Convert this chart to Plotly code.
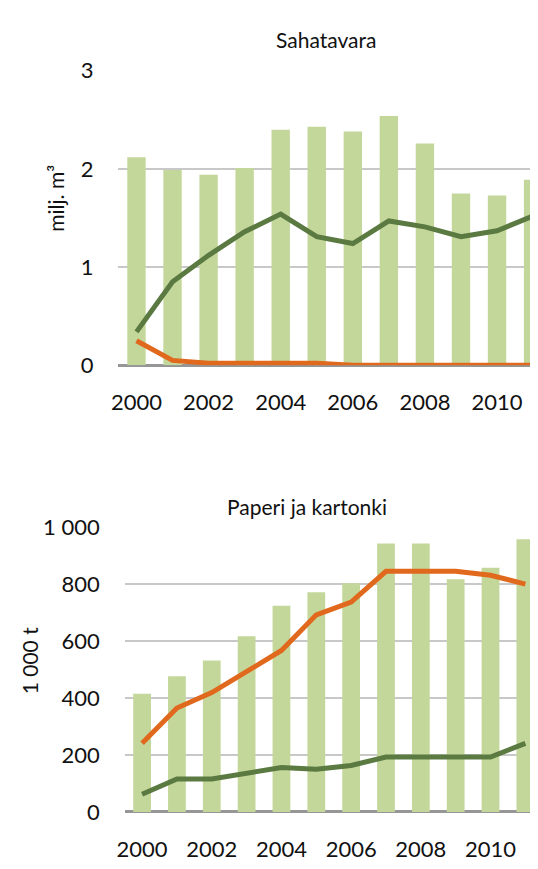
import plotly.graph_objects as go

years = list(range(2000, 2012))

# Sahatavara, milj. m3
saha_bars = [2.12, 1.99, 1.94, 2.01, 2.40, 2.43, 2.38, 2.54, 2.26, 1.75, 1.73, 1.89]
saha_green = [0.34, 0.85, 1.12, 1.36, 1.54, 1.31, 1.24, 1.47, 1.41, 1.31, 1.37, 1.52]
saha_orange = [0.25, 0.05, 0.02, 0.02, 0.02, 0.02, 0.0, 0.0, 0.0, 0.0, 0.0, 0.0]

# Paperi ja kartonki, 1000 t
paperi_bars = [415, 476, 532, 617, 724, 771, 803, 942, 942, 817, 857, 957]
paperi_orange = [241, 365, 419, 493, 567, 692, 737, 845, 845, 845, 831, 800]
paperi_green = [62, 116, 116, 138, 156, 150, 163, 193, 193, 193, 193, 241]

saha_ticks = [0, 1, 2, 3]
paperi_ticks = [0, 200, 400, 600, 800, 1000]
paperi_ticktext = ['0', '200', '400', '600', '800', '1 000']
year_ticks = years[::2]

BAR = '#C4D79B'
GREEN = '#5A7A42'
ORANGE = '#E0691E'
FONT = 'Lato'
TXT = '#111111'

W, H = 538, 869
# the page body adds an 8px margin, so everything is placed 8px up/left
OFF = 8


def px(x):
    return (x - OFF) / W


def py(y):
    return 1 - (y - OFF) / H


def panel(fig, xa, ya, bars, green, orange):
    fig.add_trace(go.Bar(x=years, y=bars, marker=dict(color=BAR, line=dict(width=0)),
                         width=0.51, xaxis=xa, yaxis=ya, showlegend=False))
    fig.add_trace(go.Scatter(x=years, y=green, mode='lines',
                             line=dict(color=GREEN, width=5),
                             xaxis=xa, yaxis=ya, showlegend=False))
    fig.add_trace(go.Scatter(x=years, y=orange, mode='lines',
                             line=dict(color=ORANGE, width=5),
                             xaxis=xa, yaxis=ya, showlegend=False))


fig = go.Figure()
panel(fig, 'x', 'y', saha_bars, saha_green, saha_orange)
panel(fig, 'x2', 'y2', paperi_bars, paperi_green, paperi_orange)

xcommon = dict(showgrid=False, zeroline=False, showline=False, ticks='',
               tickvals=year_ticks, tickfont=dict(family=FONT, size=22, color=TXT),
               ticklabelstandoff=22)
ycommon = dict(showgrid=True, gridcolor='#C8C8C8', gridwidth=2,
               zeroline=True, zerolinecolor='#969696', zerolinewidth=3,
               showline=False, ticks='', tickfont=dict(family=FONT, size=22, color=TXT),
               ticklabelstandoff=24)

# plot area edges in screen pixels, category spacing per panel
top_left, top_step = 112, 36.6
bot_left, bot_step = 118.3, 35.37
top_span = (W - (top_left - OFF)) / top_step
bot_span = (W - (bot_left - OFF)) / bot_step

fig.update_layout(
    width=W, height=H,
    margin=dict(l=0, r=0, t=0, b=0),
    paper_bgcolor='white', plot_bgcolor='white',
    bargap=0.49,
    xaxis=dict(domain=[px(top_left), 1], range=[1999.5, 1999.5 + top_span],
               anchor='y', **xcommon),
    yaxis=dict(domain=[py(362.3), py(58.3)], range=[0, 3], anchor='x',
               tickvals=saha_ticks, **ycommon),
    xaxis2=dict(domain=[px(bot_left), 1], range=[1999.5, 1999.5 + bot_span],
                anchor='y2', **xcommon),
    yaxis2=dict(domain=[py(823.3), py(529.3)], range=[0, 1000], anchor='x2',
                tickvals=paperi_ticks, ticktext=paperi_ticktext, **ycommon),
    annotations=[
        dict(text='Sahatavara', x=px(323), y=py(26), xref='paper', yref='paper',
             xanchor='center', yanchor='middle', showarrow=False,
             font=dict(family=FONT, size=21, color=TXT)),
        dict(text='Paperi ja kartonki', x=px(303), y=py(508), xref='paper', yref='paper',
             xanchor='center', yanchor='middle', showarrow=False,
             font=dict(family=FONT, size=21, color=TXT)),
        dict(text='milj. m³', x=px(48), y=py(190), xref='paper', yref='paper',
             xanchor='center', yanchor='middle', textangle=-90, showarrow=False,
             font=dict(family=FONT, size=21, color=TXT)),
        dict(text='1 000 t', x=px(22), y=py(667), xref='paper', yref='paper',
             xanchor='center', yanchor='middle', textangle=-90, showarrow=False,
             font=dict(family=FONT, size=21, color=TXT)),
    ],
)

fig.write_html('out.html')
